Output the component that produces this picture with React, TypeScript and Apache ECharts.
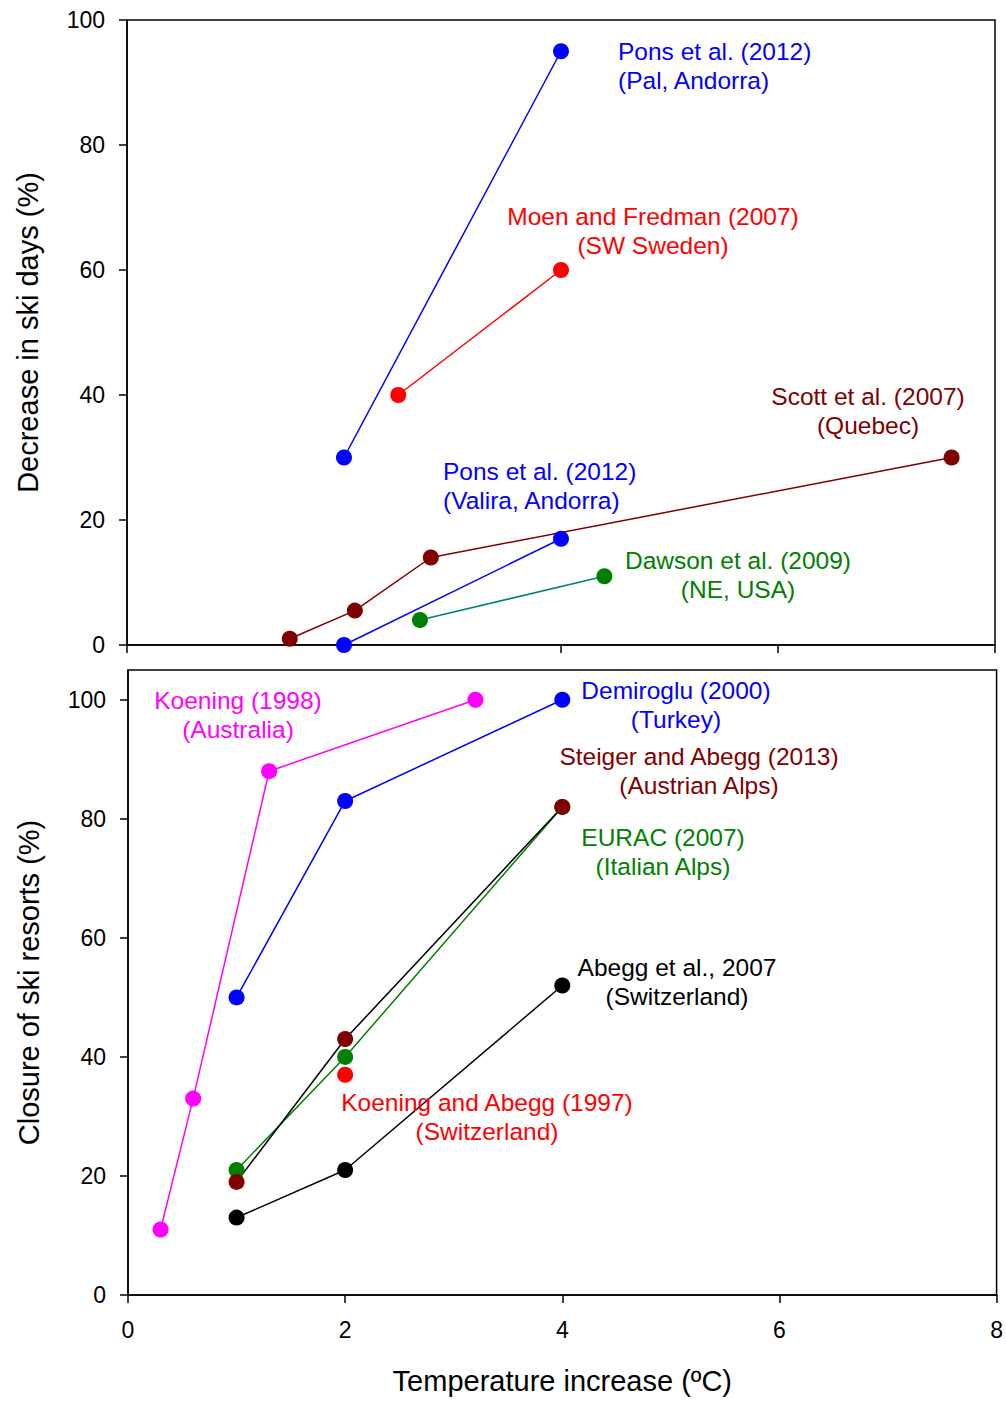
import React, { useEffect, useRef } from "react";
import * as echarts from "echarts";

// ---- Data (top panel: decrease in ski days) ----
const ponsPal: [number, number][] = [[2, 30], [4, 95]];
const moen: [number, number][] = [[2.5, 40], [4, 60]];
const scott: [number, number][] = [[1.5, 1], [2.1, 5.5], [2.8, 14], [7.6, 30]];
const ponsValira: [number, number][] = [[2, 0], [4, 17]];
const dawson: [number, number][] = [[2.7, 4], [4.4, 11]];

// ---- Data (bottom panel: closure of ski resorts) ----
const koening1998: [number, number][] = [[0.3, 11], [0.6, 33], [1.3, 88], [3.2, 100]];
const demiroglu: [number, number][] = [[1, 50], [2, 83], [4, 100]];
const eurac: [number, number][] = [[1, 21], [2, 40], [4, 82]];
const steiger: [number, number][] = [[1, 19], [2, 43], [4, 82]];
const abegg: [number, number][] = [[1, 13], [2, 21], [4, 52]];
const koeningAbegg: [number, number][] = [[2, 37]];

const yTicks = [0, 20, 40, 60, 80, 100];
const xTicks = [0, 2, 4, 6, 8];

const FONT = '"Liberation Sans", Arial, sans-serif';

function lineSeries(
  data: [number, number][],
  idx: number,
  pointColor: string,
  lineColor: string
) {
  return {
    type: "line",
    xAxisIndex: idx,
    yAxisIndex: idx,
    data,
    symbol: "circle",
    symbolSize: 16,
    showSymbol: true,
    itemStyle: { color: pointColor, opacity: 1 },
    lineStyle: { color: lineColor, width: 1.5 },
    emphasis: { disabled: true },
  };
}

function label(
  text: string,
  x: number,
  y: number,
  color: string,
  align: "left" | "center" = "center"
) {
  return {
    type: "text",
    x,
    y,
    z: 100,
    style: {
      text,
      fill: color,
      font: `24.5px ${FONT}`,
      textAlign: align,
      textVerticalAlign: "middle",
      lineHeight: 29,
    },
  };
}

export default function App() {
  const ref = useRef<HTMLDivElement>(null);

  useEffect(() => {
    document.body.style.margin = "0";
    const chart = echarts.init(ref.current!, undefined, { renderer: "svg" });

    const axisLine = { show: true, lineStyle: { color: "#000", width: 1.5 } };
    const axisTick = { show: true, inside: false, length: 8, lineStyle: { color: "#000", width: 1.5 } };
    const axisLabelStyle = { color: "#000", fontFamily: FONT, fontSize: 23 };

    const option: any = {
      animation: false,
      backgroundColor: "#fff",
      grid: [
        { left: 127, top: 20, width: 868, height: 625, show: true, borderColor: "#000", borderWidth: 1.5, backgroundColor: "transparent" },
        { left: 128, top: 670, width: 869, height: 625, show: true, borderColor: "#000", borderWidth: 1.5, backgroundColor: "transparent" },
      ],
      xAxis: [
        {
          type: "value", gridIndex: 0, min: 0, max: 8, interval: 2,
          axisLine, axisTick, splitLine: { show: false },
          axisLabel: { show: false },
        },
        {
          type: "value", gridIndex: 1, min: 0, max: 8, interval: 2,
          axisLine, axisTick, splitLine: { show: false },
          axisLabel: { ...axisLabelStyle, margin: 23, customValues: xTicks },
          name: "Temperature increase (ºC)",
          nameLocation: "middle",
          nameGap: 71,
          nameTextStyle: { color: "#000", fontFamily: FONT, fontSize: 29 },
        },
      ],
      yAxis: [
        {
          type: "value", gridIndex: 0, min: 0, max: 100, interval: 20,
          axisLine, axisTick, splitLine: { show: false },
          axisLabel: { ...axisLabelStyle, margin: 22 },
          name: "Decrease in ski days (%)",
          nameLocation: "middle",
          nameGap: 85,
          nameTextStyle: { color: "#000", fontFamily: FONT, fontSize: 29 },
        },
        {
          type: "value", gridIndex: 1, min: 0, max: 105, interval: 20,
          axisLine, splitLine: { show: false },
          axisTick: { ...axisTick, customValues: yTicks },
          axisLabel: { ...axisLabelStyle, margin: 22, customValues: yTicks },
          name: "Closure of ski resorts (%)",
          nameLocation: "middle",
          nameGap: 85,
          nameTextStyle: { color: "#000", fontFamily: FONT, fontSize: 29 },
        },
      ],
      series: [
        lineSeries(ponsPal, 0, "#0000ff", "#0000ff"),
        lineSeries(moen, 0, "#ff0000", "#ff0000"),
        lineSeries(scott, 0, "#800000", "#800000"),
        lineSeries(ponsValira, 0, "#0000ff", "#0000ff"),
        lineSeries(dawson, 0, "#008000", "#008080"),
        lineSeries(koening1998, 1, "#ff00ff", "#ff00ff"),
        lineSeries(demiroglu, 1, "#0000ff", "#0000ff"),
        lineSeries(eurac, 1, "#008000", "#008000"),
        lineSeries(steiger, 1, "#800000", "#000000"),
        lineSeries(abegg, 1, "#000000", "#000000"),
        {
          type: "scatter", xAxisIndex: 1, yAxisIndex: 1, data: koeningAbegg,
          symbol: "circle", symbolSize: 16, itemStyle: { color: "#ff0000", opacity: 1 },
          emphasis: { disabled: true },
        },
      ],
      graphic: [
        label("Pons et al. (2012)\n(Pal, Andorra)", 618, 65.5, "#0000ff", "left"),
        label("Moen and Fredman (2007)\n(SW Sweden)", 653, 230.5, "#ff0000"),
        label("Scott et al. (2007)\n(Quebec)", 868, 410.5, "#800000"),
        label("Pons et al. (2012)\n(Valira, Andorra)", 443, 486, "#0000ff", "left"),
        label("Dawson et al. (2009)\n(NE, USA)", 738, 574.5, "#008000"),
        label("Koening (1998)\n(Australia)", 238, 714.5, "#ff00ff"),
        label("Demiroglu (2000)\n(Turkey)", 676, 704.5, "#0000ff"),
        label("Steiger and Abegg (2013)\n(Austrian Alps)", 699, 770.5, "#800000"),
        label("EURAC (2007)\n(Italian Alps)", 663, 851.5, "#008000"),
        label("Abegg et al., 2007\n(Switzerland)", 677, 981.5, "#000000"),
        label("Koening and Abegg (1997)\n(Switzerland)", 487, 1116.5, "#ff0000"),
      ],
    };

    chart.setOption(option);
    return () => chart.dispose();
  }, []);

  return <div ref={ref} style={{ width: 1006, height: 1401 }} />;
}
